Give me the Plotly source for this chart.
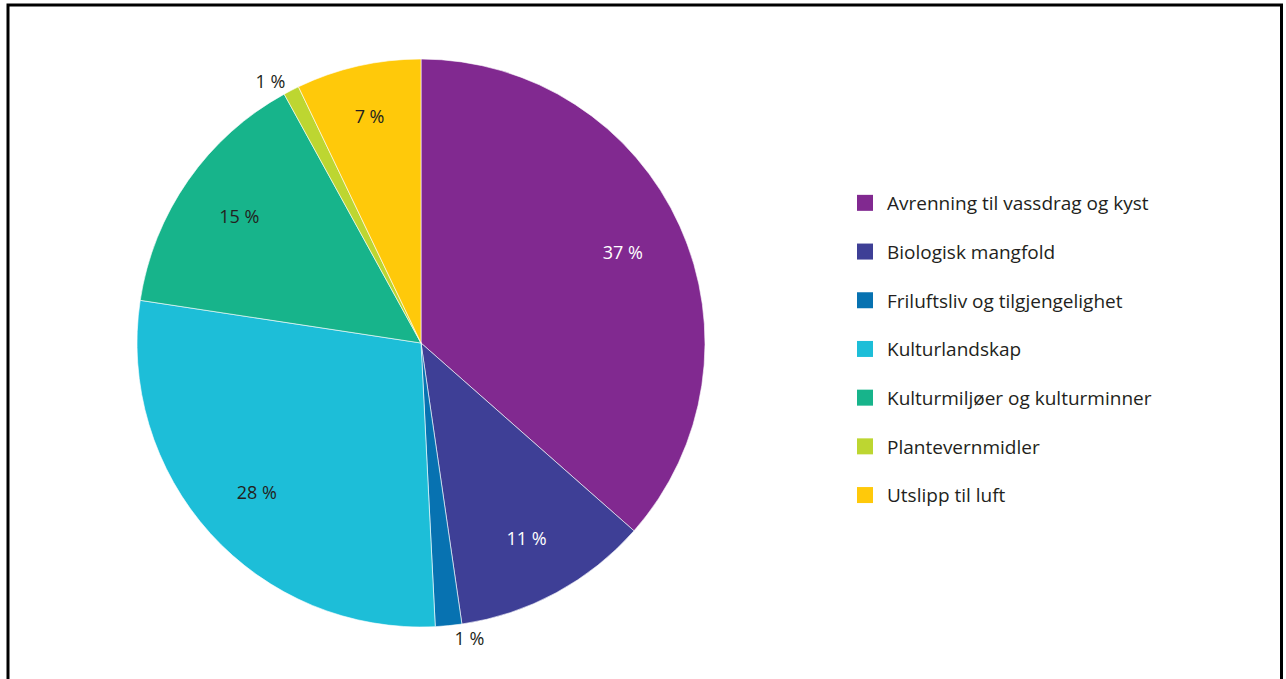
import plotly.graph_objects as go

labels = ["Avrenning til vassdrag og kyst", "Biologisk mangfold", "Friluftsliv og tilgjengelighet",
          "Kulturlandskap", "Kulturmiljøer og kulturminner", "Plantevernmidler", "Utslipp til luft"]
values = [36.5, 11.2, 1.5, 28.2, 14.6, 0.9, 7.1]
text_labels = ["37 %", "11 %", "1 %", "28 %", "15 %", "1 %", "7 %"]
colors = ["#812990", "#3E3F96", "#0772B1", "#1DBED8", "#17B48B", "#BDD631", "#FFC90A"]
text_colors = ["#FFFFFF", "#FFFFFF", "#231F20", "#231F20", "#231F20", "#231F20", "#231F20"]
text_pos = ["inside", "inside", "outside", "inside", "inside", "outside", "inside"]

W, H = 1286, 679
FONT = "Open Sans"
domain = dict(x=[137 / W, 705 / W], y=[1 - 627 / H, 1 - 59 / H])

fig = go.Figure()
# coloured slices
fig.add_trace(go.Pie(
    labels=labels, values=values, textinfo="none",
    sort=False, direction="clockwise", rotation=0,
    marker=dict(colors=colors, line=dict(color="white", width=0.6)),
    domain=domain, showlegend=False, hoverinfo="label+percent",
))
# label layer (transparent ring so labels sit further out, as in the original)
fig.add_trace(go.Pie(
    labels=labels, values=values, text=text_labels, textinfo="text",
    sort=False, direction="clockwise", rotation=0, hole=0.56,
    marker=dict(colors=["rgba(0,0,0,0)"] * len(labels), line=dict(width=0)),
    textposition=text_pos, insidetextorientation="horizontal",
    textfont=dict(family=FONT, size=18, color=text_colors),
    outsidetextfont=dict(family=FONT, size=18, color="#231F20"),
    domain=domain, showlegend=False, hoverinfo="skip",
))

for i, (lab, col) in enumerate(zip(labels, colors)):
    fig.add_trace(go.Scatter(
        x=[None], y=[None], mode="markers", name=lab,
        marker=dict(symbol="square", size=16, color=col),
        legendgroup=f"g{i}", showlegend=True,
    ))

fig.update_layout(
    width=W, height=H,
    margin=dict(l=0, r=0, t=0, b=0),
    paper_bgcolor="white", plot_bgcolor="white",
    xaxis=dict(visible=False), yaxis=dict(visible=False),
    legend=dict(x=843 / W, y=1 - 184 / H, xanchor="left", yanchor="top",
                font=dict(family=FONT, size=19, color="#231F20"),
                tracegroupgap=21, itemwidth=34),
    shapes=[
        dict(type="path", xref="paper", yref="paper",
             path=f"M {8/W} 0 L {8/W} {1-5/H} L {1281.5/W} {1-5/H} L {1281.5/W} 0",
             line=dict(color="black", width=3)),
    ],
    showlegend=True,
)

fig.write_html("out.html", config={"displayModeBar": False},
               post_script="document.body.style.margin='0';document.body.style.overflow='hidden';")
